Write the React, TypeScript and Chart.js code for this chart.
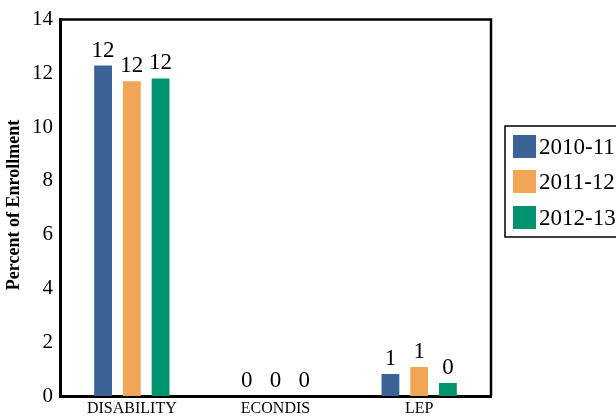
import React, { useEffect, useRef } from "react";
import { Chart, registerables } from "chart.js";
Chart.register(...registerables);

const categories = ["DISABILITY", "ECONDIS", "LEP"];
const seriesLabels = ["2010-11", "2011-12", "2012-13"];
const values2010 = [12.29, 0, 0.82];
const values2011 = [11.71, 0, 1.08];
const values2012 = [11.81, 0, 0.48];
const seriesColors = ["#3B6396", "#F1A557", "#00936F"];
const yTitle = "Percent of Enrollment";

const SERIF = "'Liberation Serif', 'Times New Roman', serif";

const overlay = {
  id: "overlay",
  afterDatasetsDraw(chart: any) {
    const ctx = chart.ctx;
    ctx.save();
    ctx.fillStyle = "#000";
    ctx.font = `23px ${SERIF}`;
    ctx.textAlign = "center";
    ctx.textBaseline = "alphabetic";
    chart.data.datasets.forEach((ds: any, i: number) => {
      const meta = chart.getDatasetMeta(i);
      meta.data.forEach((el: any, j: number) => {
        const v = ds.data[j];
        ctx.fillText(String(Math.round(v)), el.x, el.y - 9);
      });
    });
    ctx.restore();
  },
  afterDraw(chart: any) {
    const ctx = chart.ctx;
    const a = chart.chartArea;
    ctx.save();
    // frame top/right
    ctx.strokeStyle = "#000";
    ctx.lineWidth = 2.5;
    ctx.beginPath();
    ctx.moveTo(a.left, a.top);
    ctx.lineTo(a.right, a.top);
    ctx.lineTo(a.right, a.bottom);
    ctx.stroke();
    // y title
    ctx.save();
    ctx.translate(14, 205);
    ctx.rotate(-Math.PI / 2);
    ctx.font = `bold 18px ${SERIF}`;
    ctx.fillStyle = "#000";
    ctx.textAlign = "center";
    ctx.textBaseline = "middle";
    ctx.fillText(yTitle, 0, 0);
    ctx.restore();
    // legend
    const lx = 505, ly = 126, lw = 130, lh = 111;
    ctx.lineWidth = 1.5;
    ctx.strokeRect(lx, ly, lw, lh);
    ctx.font = `23px ${SERIF}`;
    ctx.textAlign = "left";
    ctx.textBaseline = "middle";
    const tops = [135, 170, 206];
    seriesLabels.forEach((lab, i) => {
      ctx.fillStyle = seriesColors[i];
      ctx.fillRect(513, tops[i], 23, 23);
      ctx.fillStyle = "#000";
      ctx.fillText(lab, 539, tops[i] + 12.5);
    });
    ctx.restore();
  },
};

export default function App() {
  const ref = useRef<HTMLCanvasElement>(null);
  useEffect(() => {
    if (!ref.current) return;
    const data = [values2010, values2011, values2012];
    const chart = new Chart(ref.current, {
      type: "bar",
      data: {
        labels: categories,
        datasets: seriesLabels.map((l, i) => ({
          label: l,
          data: data[i],
          backgroundColor: seriesColors[i],
          borderWidth: 0,
          categoryPercentage: 0.6,
          barPercentage: 0.62,
        })),
      },
      options: {
        responsive: false,
        animation: false,
        devicePixelRatio: 1,
        layout: { padding: { top: 19, right: 125, left: 0, bottom: 0 } },
        plugins: { legend: { display: false }, tooltip: { enabled: false } },
        scales: {
          x: {
            grid: { display: false, drawTicks: false },
            border: { display: true, color: "#000", width: 3 },
            ticks: { color: "#000", font: { family: SERIF, size: 16 }, padding: 3, maxRotation: 0 },
            afterFit: (s: any) => { s.height = 22; },
          },
          y: {
            min: 0,
            max: 14,
            grid: { display: false, drawTicks: false },
            border: { display: true, color: "#000", width: 3 },
            ticks: { stepSize: 2, color: "#000", font: { family: SERIF, size: 21 }, padding: 7 },
            afterFit: (s: any) => { s.width = 60; },
          },
        },
      },
      plugins: [overlay],
    });
    return () => chart.destroy();
  }, []);
  return (
    <div style={{ position: "absolute", left: 0, top: 0, width: 616, height: 418, background: "#fff" }}>
      <canvas ref={ref} width={616} height={418} />
    </div>
  );
}
